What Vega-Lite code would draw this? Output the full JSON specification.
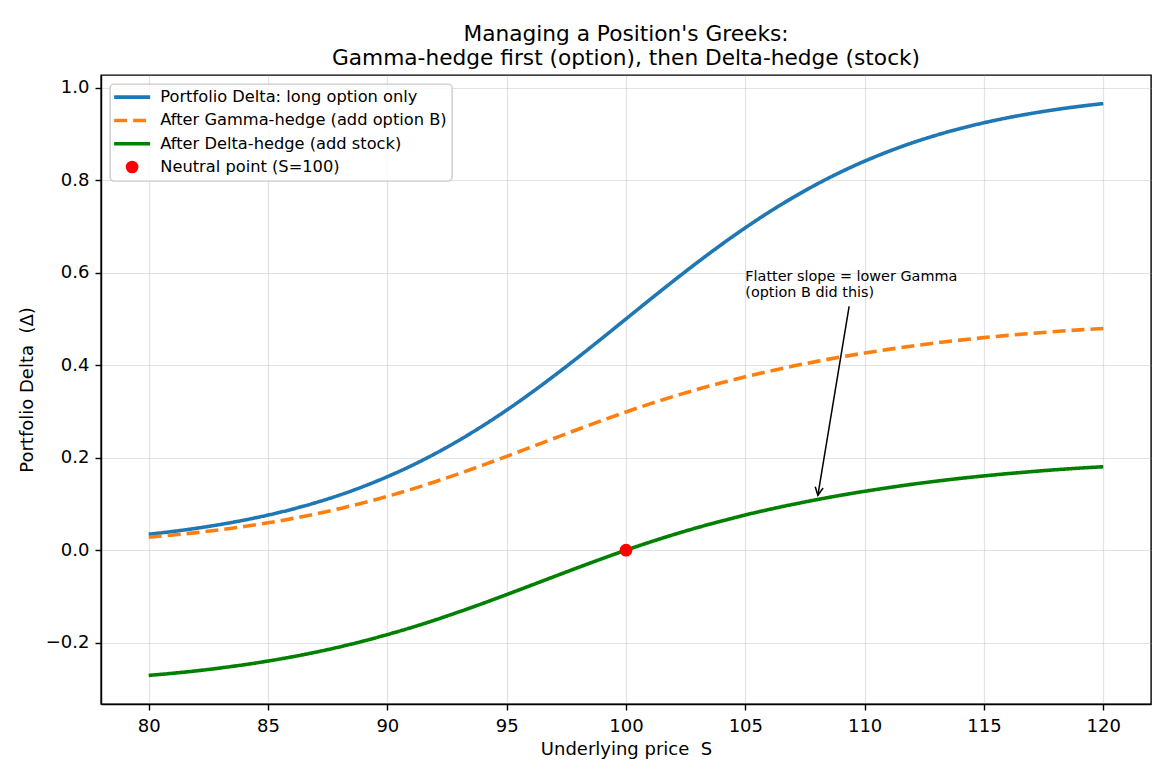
{
  "$schema": "https://vega.github.io/schema/vega-lite/v6.json",
  "width": 1050,
  "height": 629,
  "autosize": {"type": "none"},
  "padding": {"left": 101, "top": 75, "right": 19, "bottom": 76},
  "background": "white",
  "config": {
    "font": "DejaVu Sans",
    "view": {"stroke": "black", "strokeWidth": 1.4},
    "axis": {
      "labelFont": "DejaVu Sans",
      "labelFontSize": 18,
      "labelColor": "black",
      "tickColor": "black",
      "tickSize": 6,
      "tickWidth": 1.4,
      "domainColor": "black",
      "domainWidth": 1.4,
      "titleFont": "DejaVu Sans",
      "titleFontSize": 18,
      "titleFontWeight": "normal",
      "titleColor": "black",
      "grid": true,
      "gridColor": "#b0b0b0",
      "gridOpacity": 0.35,
      "gridWidth": 1.2
    }
  },
  "title": {
    "text": ["Managing a Position's Greeks:", "Gamma-hedge first (option), then Delta-hedge (stock)"],
    "font": "DejaVu Sans",
    "fontSize": 21.7,
    "fontWeight": "normal",
    "color": "black",
    "anchor": "middle",
    "baseline": "bottom",
    "lineHeight": 24,
    "offset": -17
  },
  "datasets": {
    "curves": [
      {"S": 80, "long": 0.0344, "gamma": 0.0281, "hedged": -0.2708},
      {"S": 81, "long": 0.0404, "gamma": 0.0327, "hedged": -0.2662},
      {"S": 82, "long": 0.0474, "gamma": 0.0380, "hedged": -0.2609},
      {"S": 83, "long": 0.0556, "gamma": 0.0442, "hedged": -0.2547},
      {"S": 84, "long": 0.0650, "gamma": 0.0512, "hedged": -0.2477},
      {"S": 85, "long": 0.0759, "gamma": 0.0592, "hedged": -0.2397},
      {"S": 86, "long": 0.0884, "gamma": 0.0682, "hedged": -0.2307},
      {"S": 87, "long": 0.1028, "gamma": 0.0784, "hedged": -0.2205},
      {"S": 88, "long": 0.1192, "gamma": 0.0898, "hedged": -0.2091},
      {"S": 89, "long": 0.1379, "gamma": 0.1025, "hedged": -0.1964},
      {"S": 90, "long": 0.1589, "gamma": 0.1164, "hedged": -0.1825},
      {"S": 91, "long": 0.1824, "gamma": 0.1315, "hedged": -0.1674},
      {"S": 92, "long": 0.2086, "gamma": 0.1479, "hedged": -0.1510},
      {"S": 93, "long": 0.2375, "gamma": 0.1655, "hedged": -0.1334},
      {"S": 94, "long": 0.2689, "gamma": 0.1838, "hedged": -0.1151},
      {"S": 95, "long": 0.3029, "gamma": 0.2029, "hedged": -0.0960},
      {"S": 96, "long": 0.3392, "gamma": 0.2224, "hedged": -0.0765},
      {"S": 97, "long": 0.3775, "gamma": 0.2420, "hedged": -0.0569},
      {"S": 98, "long": 0.4174, "gamma": 0.2615, "hedged": -0.0374},
      {"S": 99, "long": 0.4584, "gamma": 0.2805, "hedged": -0.0184},
      {"S": 100, "long": 0.5, "gamma": 0.2989, "hedged": 0},
      {"S": 101, "long": 0.5416, "gamma": 0.3163, "hedged": 0.0174},
      {"S": 102, "long": 0.5826, "gamma": 0.3326, "hedged": 0.0337},
      {"S": 103, "long": 0.6225, "gamma": 0.3478, "hedged": 0.0489},
      {"S": 104, "long": 0.6608, "gamma": 0.3619, "hedged": 0.0630},
      {"S": 105, "long": 0.6971, "gamma": 0.3750, "hedged": 0.0761},
      {"S": 106, "long": 0.7311, "gamma": 0.3870, "hedged": 0.0881},
      {"S": 107, "long": 0.7625, "gamma": 0.3980, "hedged": 0.0991},
      {"S": 108, "long": 0.7914, "gamma": 0.4082, "hedged": 0.1093},
      {"S": 109, "long": 0.8176, "gamma": 0.4176, "hedged": 0.1187},
      {"S": 110, "long": 0.8411, "gamma": 0.4262, "hedged": 0.1273},
      {"S": 111, "long": 0.8621, "gamma": 0.4341, "hedged": 0.1352},
      {"S": 112, "long": 0.8808, "gamma": 0.4415, "hedged": 0.1426},
      {"S": 113, "long": 0.8972, "gamma": 0.4481, "hedged": 0.1492},
      {"S": 114, "long": 0.9116, "gamma": 0.4541, "hedged": 0.1552},
      {"S": 115, "long": 0.9241, "gamma": 0.4595, "hedged": 0.1606},
      {"S": 116, "long": 0.9350, "gamma": 0.4644, "hedged": 0.1655},
      {"S": 117, "long": 0.9444, "gamma": 0.4688, "hedged": 0.1699},
      {"S": 118, "long": 0.9526, "gamma": 0.4728, "hedged": 0.1739},
      {"S": 119, "long": 0.9596, "gamma": 0.4763, "hedged": 0.1774},
      {"S": 120, "long": 0.9656, "gamma": 0.4793, "hedged": 0.1804}
    ],
    "neutral": [{"S": 100, "delta": 0, "series": "neutral"}],
    "note": [{"S": 105, "delta": 0.581, "text": "Flatter slope = lower Gamma\n(option B did this)"}],
    "arrow": [{"S": 109.35, "delta": 0.527, "S2": 108.04, "delta2": 0.1187}]
  },
  "layer": [
    {
      "data": {"name": "curves"},
      "transform": [{"fold": ["long", "gamma", "hedged"], "as": ["series", "delta"]}],
      "mark": {"type": "line", "strokeWidth": 3.6, "interpolate": "monotone"},
      "encoding": {
        "x": {
          "field": "S", "type": "quantitative",
          "scale": {"domain": [78, 122], "nice": false, "zero": false},
          "axis": {"values": [80, 85, 90, 95, 100, 105, 110, 115, 120], "format": "d", "title": "Underlying price\u00a0 S", "labelPadding": 7, "titlePadding": 5}
        },
        "y": {
          "field": "delta", "type": "quantitative",
          "scale": {"domain": [-0.3326, 1.0274], "nice": false, "zero": false},
          "axis": {"values": [-0.2, 0, 0.2, 0.4, 0.6, 0.8, 1.0], "format": ".1f", "title": "Portfolio Delta\u00a0 (Δ)", "labelPadding": 6, "titlePadding": 9}
        },
        "color": {
          "field": "series", "type": "nominal",
          "scale": {"domain": ["long", "gamma", "hedged", "neutral"], "range": ["#1f77b4", "#ff7f0e", "#008000", "#ff0000"]},
          "legend": {
            "title": null,
            "orient": "top-left",
            "offset": 9,
            "fillColor": "rgba(255,255,255,0.8)",
            "strokeColor": "#cccccc",
            "cornerRadius": 4,
            "padding": 5,
            "symbolSize": 100,
            "symbolOffset": 9,
            "labelOffset": 20,
            "rowPadding": 6.3,
            "labelFont": "DejaVu Sans",
            "labelFontSize": 16.25,
            "labelColor": "black",
            "labelLimit": 500,
            "symbolStrokeWidth": 3.6,
            "labelExpr": "{'long':'Portfolio Delta: long option only','gamma':'After Gamma-hedge (add option B)','hedged':'After Delta-hedge (add stock)','neutral':'Neutral point (S=100)'}[datum.value]",
            "encode": {
              "legend": {"update": {"strokeWidth": {"value": 1.4}}},
              "symbols": {
                "update": {
                  "shape": {"signal": "datum.value === 'neutral' ? 'circle' : 'stroke'"},
                  "size": {"signal": "datum.value === 'neutral' ? 161 : 1296"},
                  "fill": {"signal": "datum.value === 'neutral' ? '#ff0000' : 'transparent'"},
                  "strokeWidth": {"signal": "datum.value === 'neutral' ? 0 : 3.6"}
                }
              }
            }
          }
        },
        "strokeDash": {
          "field": "series", "type": "nominal",
          "scale": {"domain": ["long", "gamma", "hedged", "neutral"], "range": [[1, 0], [13, 6], [1, 0], [1, 0]]},
          "legend": null
        }
      }
    },
    {
      "mark": {"type": "rule", "color": "black", "strokeWidth": 1.3},
      "encoding": {"y": {"datum": 0}}
    },
    {
      "mark": {"type": "rule", "color": "gray", "strokeWidth": 1.8, "strokeDash": [1.8, 3]},
      "encoding": {"x": {"datum": 100}}
    },
    {
      "data": {"name": "neutral"},
      "mark": {"type": "point", "shape": "circle", "filled": true, "size": 161, "opacity": 1},
      "encoding": {
        "x": {"field": "S", "type": "quantitative"},
        "y": {"field": "delta", "type": "quantitative"},
        "color": {"field": "series", "type": "nominal"}
      }
    },
    {
      "data": {"name": "note"},
      "mark": {"type": "text", "align": "left", "baseline": "alphabetic", "fontSize": 14.4, "lineHeight": 15.5, "lineBreak": "\n", "color": "black", "font": "DejaVu Sans"},
      "encoding": {
        "x": {"field": "S", "type": "quantitative"},
        "y": {"field": "delta", "type": "quantitative"},
        "text": {"field": "text"}
      }
    },
    {
      "data": {"name": "arrow"},
      "mark": {"type": "rule", "color": "black", "strokeWidth": 1.5},
      "encoding": {
        "x": {"field": "S", "type": "quantitative"},
        "y": {"field": "delta", "type": "quantitative"},
        "x2": {"field": "S2"},
        "y2": {"field": "delta2"}
      }
    },
    {
      "data": {"name": "arrow"},
      "mark": {"type": "point", "shape": "M -0.5 -1 L 0 0 L 0.5 -1", "filled": false, "size": 256, "angle": 9.4, "stroke": "black", "strokeWidth": 1.5, "opacity": 1},
      "encoding": {
        "x": {"field": "S2", "type": "quantitative"},
        "y": {"field": "delta2", "type": "quantitative"}
      }
    }
  ]
}
